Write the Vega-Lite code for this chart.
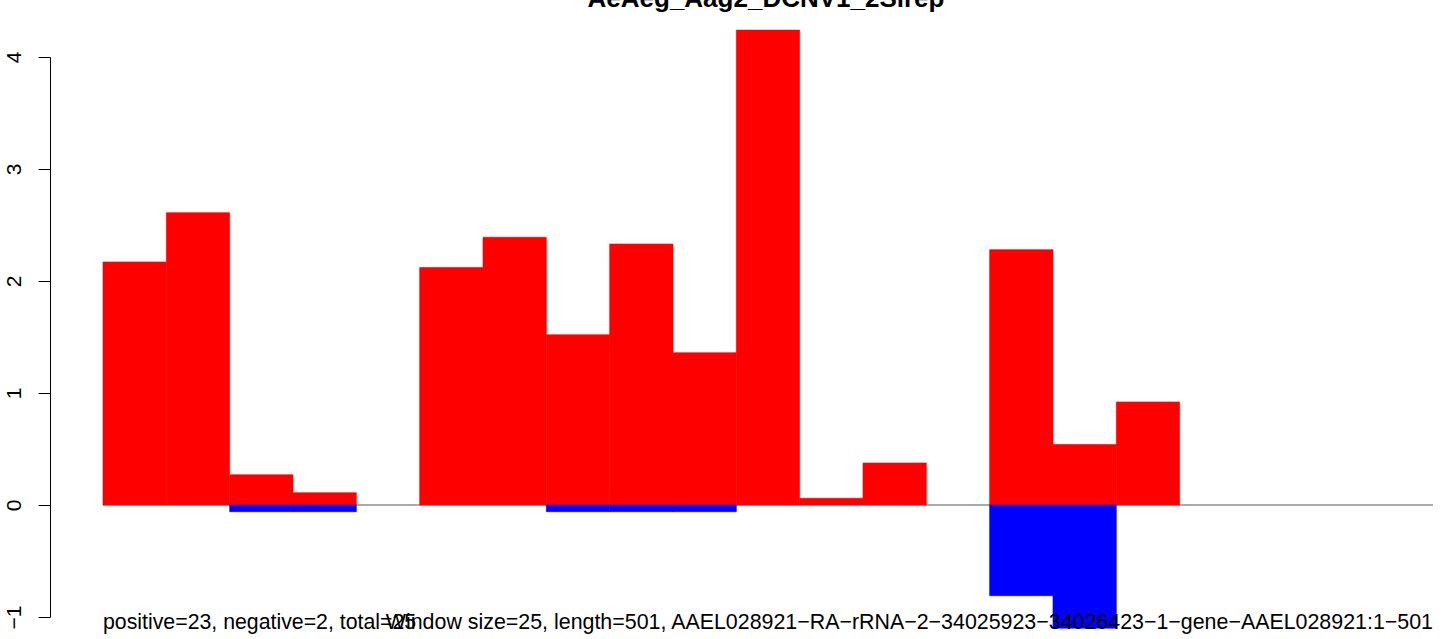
{
  "$schema": "https://vega.github.io/schema/vega-lite/v6.json",
  "width": 1394,
  "height": 560,
  "autosize": {"type": "none"},
  "padding": {"left": 50, "top": 57, "right": 0, "bottom": 22},
  "background": "white",
  "config": {"view": {"stroke": null}, "font": "Liberation Sans"},
  "title": {
    "text": "AeAeg_Aag2_DCNV1_2Sirep",
    "font": "Liberation Sans",
    "fontWeight": "bold",
    "fontSize": 26,
    "anchor": "middle",
    "frame": "group",
    "baseline": "alphabetic",
    "offset": 0,
    "dy": 3,
    "dx": 19,
    "color": "black"
  },
  "datasets": {
    "bars": [
      {"start": 0, "end": 1, "value": 2.17, "strand": "positive"},
      {"start": 1, "end": 2, "value": 2.61, "strand": "positive"},
      {"start": 2, "end": 3, "value": 0.27, "strand": "positive"},
      {"start": 3, "end": 4, "value": 0.11, "strand": "positive"},
      {"start": 5, "end": 6, "value": 2.12, "strand": "positive"},
      {"start": 6, "end": 7, "value": 2.39, "strand": "positive"},
      {"start": 7, "end": 8, "value": 1.52, "strand": "positive"},
      {"start": 8, "end": 9, "value": 2.33, "strand": "positive"},
      {"start": 9, "end": 10, "value": 1.36, "strand": "positive"},
      {"start": 10, "end": 11, "value": 4.24, "strand": "positive"},
      {"start": 11, "end": 12, "value": 0.06, "strand": "positive"},
      {"start": 12, "end": 13, "value": 0.375, "strand": "positive"},
      {"start": 14, "end": 15, "value": 2.28, "strand": "positive"},
      {"start": 15, "end": 16, "value": 0.54, "strand": "positive"},
      {"start": 16, "end": 17, "value": 0.92, "strand": "positive"},
      {"start": 2, "end": 3, "value": -0.06, "strand": "negative"},
      {"start": 3, "end": 4, "value": -0.06, "strand": "negative"},
      {"start": 7, "end": 8, "value": -0.06, "strand": "negative"},
      {"start": 8, "end": 9, "value": -0.06, "strand": "negative"},
      {"start": 9, "end": 10, "value": -0.06, "strand": "negative"},
      {"start": 14, "end": 15, "value": -0.81, "strand": "negative"},
      {"start": 15, "end": 16, "value": -1.1, "strand": "negative"}
    ]
  },
  "layer": [
    {
      "data": {"values": [{"line": "zero"}]},
      "mark": {"type": "rule", "color": "#555555", "strokeWidth": 1, "clip": false},
      "encoding": {
        "x": {"datum": 0, "type": "quantitative", "scale": {"domain": [-0.8368, 21.174], "nice": false, "zero": false}, "axis": null},
        "x2": {"datum": 21},
        "y": {"datum": 0, "type": "quantitative"}
      }
    },
    {
      "data": {"name": "bars"},
      "mark": {"type": "bar", "clip": false, "strokeWidth": 0.6},
      "encoding": {
        "x": {"field": "start", "type": "quantitative"},
        "x2": {"field": "end"},
        "y": {
          "field": "value",
          "type": "quantitative",
          "scale": {"domain": [-1, 4], "nice": false, "zero": false},
          "axis": {
            "title": null,
            "values": [-1, 0, 1, 2, 3, 4],
            "format": "d",
            "grid": false,
            "domainColor": "black",
            "domainWidth": 1,
            "tickColor": "black",
            "tickWidth": 1,
            "tickSize": 12,
            "labelAngle": 270,
            "labelAlign": "center",
            "labelBaseline": "alphabetic",
            "labelPadding": 18,
            "labelFontSize": 21,
            "labelFont": "Liberation Sans",
            "labelColor": "black"
          }
        },
        "y2": {"datum": 0},
        "color": {
          "field": "strand",
          "type": "nominal",
          "scale": {"domain": ["positive", "negative"], "range": ["#FF0000", "#0000FF"]},
          "legend": null
        },
        "stroke": {
          "field": "strand",
          "type": "nominal",
          "scale": {"domain": ["positive", "negative"], "range": ["#FF0000", "#0000FF"]},
          "legend": null
        }
      }
    },
    {
      "data": {"values": [{"note": "positive=23, negative=2, total=25"}]},
      "mark": {"type": "text", "align": "left", "baseline": "alphabetic", "fontSize": 21.3, "font": "Liberation Sans", "color": "black", "clip": false},
      "encoding": {
        "x": {"datum": 0, "type": "quantitative"},
        "y": {"datum": -1.11, "type": "quantitative"},
        "text": {"field": "note"}
      }
    },
    {
      "data": {"values": [{"note": "Window size=25, length=501, AAEL028921−RA−rRNA−2−34025923−34026423−1−gene−AAEL028921:1−501"}]},
      "mark": {"type": "text", "align": "right", "baseline": "alphabetic", "fontSize": 21.4, "font": "Liberation Sans", "color": "black", "clip": false},
      "encoding": {
        "x": {"datum": 21, "type": "quantitative"},
        "y": {"datum": -1.11, "type": "quantitative"},
        "text": {"field": "note"}
      }
    }
  ]
}
